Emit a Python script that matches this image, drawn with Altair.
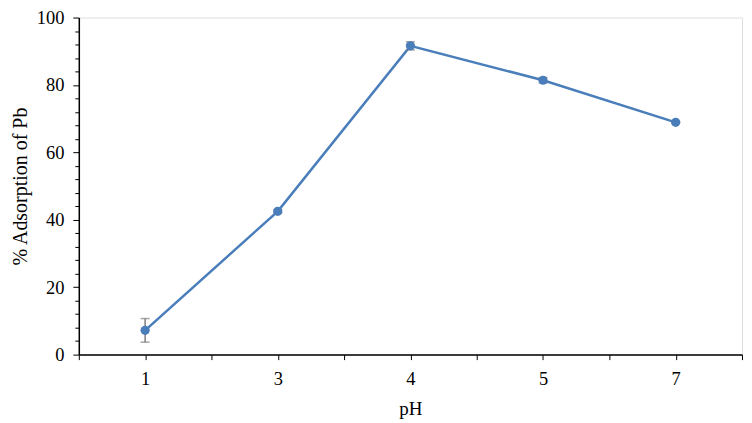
import altair as alt
import pandas as pd

ph_labels = ["1", "3", "4", "5", "7"]
adsorption = [7.2, 42.5, 91.6, 81.4, 68.9]
err = [3.5, 0.5, 1.2, 0.8, 0.3]

df = pd.DataFrame({
    "idx": list(range(len(ph_labels))),
    "ph": ph_labels,
    "ads": adsorption,
    "lo": [a - e for a, e in zip(adsorption, err)],
    "hi": [a + e for a, e in zip(adsorption, err)],
})

label_expr = " : ".join(
    f"datum.value == {i} ? '{lab}'" for i, lab in enumerate(ph_labels)
) + " : ''"

FONT = "Liberation Serif"
BLUE = "#4A7EBB"

x_ticks = [i * 0.5 - 0.5 for i in range(2 * len(ph_labels) + 1)]
y_ticks = list(range(0, 101, 4))

x_enc = alt.X(
    "idx:Q",
    scale=alt.Scale(domain=[-0.5, len(ph_labels) - 0.5], nice=False, zero=False),
    axis=alt.Axis(
        title="pH", values=x_ticks, labelExpr=label_expr, grid=False,
        tickSize=5, tickColor="black", tickWidth=1,
        domainColor="black", domainWidth=1.5,
        labelFont=FONT, labelFontSize=18.5, labelColor="black", labelPadding=10,
        titleFont=FONT, titleFontSize=19, titleFontWeight="normal", titleColor="black",
        titlePadding=12,
    ),
)


def y_enc(field):
    return alt.Y(
        field=field, type="quantitative",
        scale=alt.Scale(domain=[0, 100], nice=False),
        axis=alt.Axis(
            title="% Adsorption of Pb", values=y_ticks,
            labelExpr="datum.value % 20 == 0 ? datum.label : ''",
            grid=False,
            tickSize={"condition": {"test": "datum.value % 20 == 0", "value": 6}, "value": 4},
            tickColor="black", tickWidth=1,
            domainColor="black", domainWidth=1.5,
            labelFont=FONT, labelFontSize=18.5, labelColor="black", labelPadding=9,
            titleFont=FONT, titleFontSize=20, titleFontWeight="normal", titleColor="black",
            titlePadding=6,
        ),
    )


base = alt.Chart(df)

rule = base.mark_rule(color="#7f7f7f", strokeWidth=1.5).encode(x=x_enc, y=y_enc("lo"), y2="hi:Q")
cap_lo = base.mark_tick(color="#7f7f7f", orient="horizontal", size=9, thickness=1.5).encode(x=x_enc, y=y_enc("lo"))
cap_hi = base.mark_tick(color="#7f7f7f", orient="horizontal", size=9, thickness=1.5).encode(x=x_enc, y=y_enc("hi"))
line = base.mark_line(color=BLUE, strokeWidth=2.5).encode(x=x_enc, y=y_enc("ads"))
pts = base.mark_circle(color=BLUE, size=85, opacity=1).encode(x=x_enc, y=y_enc("ads"))

chart = alt.layer(line, rule, cap_lo, cap_hi, pts).properties(
    width=665, height=338,
    autosize=alt.AutoSizeParams(type="none"),
    padding={"left": 71, "top": 9, "right": 2, "bottom": 66},
).configure_view(stroke="black", strokeWidth=1.5).configure(background="white")

chart.save("out.html", embed_options={"renderer": "svg", "actions": False})
